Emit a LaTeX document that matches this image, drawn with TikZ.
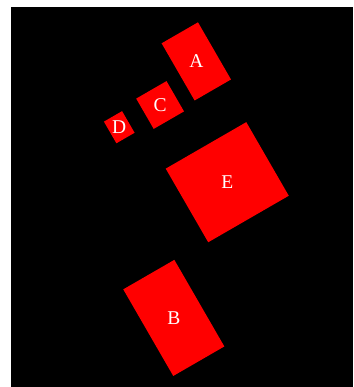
\documentclass[tikz,border=0pt]{standalone}
\usepackage{fontspec}
\setmainfont{Liberation Serif}
\usepackage{graphicx}
\begin{document}
\begin{tikzpicture}[x=1pt,y=-1pt,
  box/.style={fill=red,draw=none,rotate=30,inner sep=0pt,text=white,
    font=\fontsize{19.5}{19.5}\selectfont}]
\useasboundingbox (0,0) rectangle (353,387);
\fill[white] (0,0) rectangle (353,387);
\fill[black] (11,7) rectangle (353,387);
\node[box,minimum width=42pt,minimum height=66pt] (A) at (196.3,61.4) {\rotatebox{-30}{A}};
\node[box,minimum width=35pt,minimum height=35pt] (C) at (160.1,105) {\rotatebox{-30}{C}};
\node[box,minimum width=21pt,minimum height=25pt] (D) at (119.25,127.2) {\rotatebox{-30}{D}};
\node[box,minimum width=93pt,minimum height=85pt] (E) at (227.25,182.2) {\rotatebox{-30}{E}};
\node[box,minimum width=59pt,minimum height=100pt] (B) at (173.8,317.9) {\rotatebox{-30}{B}};
\end{tikzpicture}
\end{document}
